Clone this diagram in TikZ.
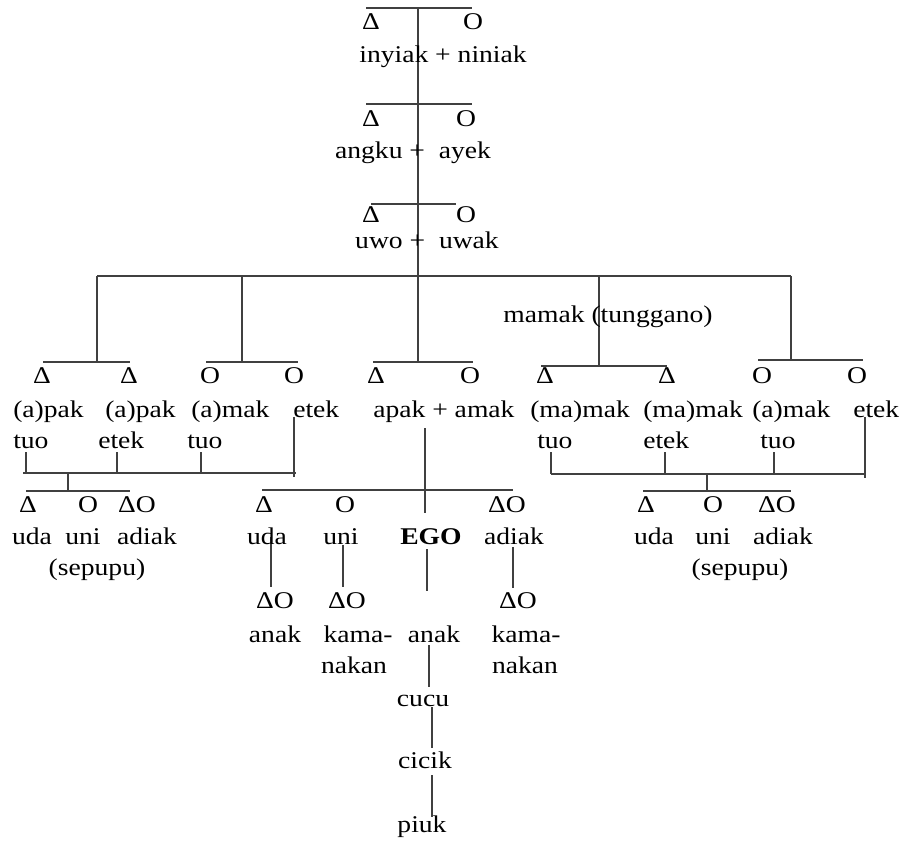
\documentclass[tikz,border=0pt]{standalone}
\usepackage{fontspec}
\setmainfont{Liberation Serif}[FakeStretch=1.15]
\newcommand{\tri}{Δ}

\begin{document}
\begin{tikzpicture}[x=0.75pt,y=-0.75pt,line cap=butt,
	kin/.style={line width=0.9pt,color=black!75},
	lbl/.style={inner sep=0pt,anchor=base,font=\fontsize{18}{22}\selectfont},
	lblw/.style={lbl,anchor=base west}]
	\useasboundingbox (0,0) rectangle (902,841);
	% bars and drops
	\coordinate (b1l) at (366,8); \coordinate (b1r) at (472,8); \coordinate (b1c) at (418,8);
	\coordinate (b2l) at (366,104); \coordinate (b2r) at (472,104); \coordinate (b2c) at (418,104);
	\coordinate (b3l) at (371,204); \coordinate (b3r) at (456,204); \coordinate (b3c) at (418,204);
	\coordinate (mainl) at (97,276); \coordinate (mainr) at (791,276); \coordinate (mainc) at (418,276);
	\coordinate (s1l) at (43,362); \coordinate (s1r) at (130,362); \coordinate (s1c) at (97,362);
	\coordinate (s2l) at (206,362); \coordinate (s2r) at (298,362); \coordinate (s2c) at (242,362);
	\coordinate (s3l) at (373,362); \coordinate (s3r) at (473,362); \coordinate (s3c) at (418,362);
	\coordinate (s4l) at (541,366); \coordinate (s4r) at (667,366); \coordinate (s4c) at (599,366);
	\coordinate (s5l) at (758,360); \coordinate (s5r) at (863,360); \coordinate (s5c) at (791,360);
	\draw [kin] (b1l) -- (b1r);
	\draw [kin] (b1c) -- (b2c);
	\draw [kin] (b2l) -- (b2r);
	\draw [kin] (b2c) -- (b3c);
	\draw [kin] (b3l) -- (b3r);
	\draw [kin] (b3c) -- (mainc);
	\draw [kin] (mainl) -- (mainr);
	\draw [kin] (mainl) -- (s1c);
	\draw [kin] (s2c |- mainc) -- (s2c);
	\draw [kin] (mainc) -- (s3c);
	\draw [kin] (s4c |- mainc) -- (s4c);
	\draw [kin] (mainr) -- (s5c);
	\draw [kin] (s1l) -- (s1r);
	\draw [kin] (s2l) -- (s2r);
	\draw [kin] (s3l) -- (s3r);
	\draw [kin] (s4l) -- (s4r);
	\draw [kin] (s5l) -- (s5r);
	% left cousins
	\coordinate (lc1) at (26,452); \coordinate (lc2) at (117,452); \coordinate (lc3) at (201,452);
	\coordinate (lc4) at (294,417); \coordinate (lc4e) at (294,477);
	\coordinate (lcl) at (23,473); \coordinate (lcr) at (296,473); \coordinate (lcd) at (68,473);
	\coordinate (cb1l) at (26,491); \coordinate (cb1r) at (130,491);
	\draw [kin] (lc1) -- (lc1 |- lcl);
	\draw [kin] (lc2) -- (lc2 |- lcl);
	\draw [kin] (lc3) -- (lc3 |- lcl);
	\draw [kin] (lc4) -- (lc4e);
	\draw [kin] (lcl) -- (lcr);
	\draw [kin] (lcd) -- (lcd |- cb1l);
	\draw [kin] (cb1l) -- (cb1r);
	% right cousins
	\coordinate (rc1) at (551,452); \coordinate (rc2) at (665,452); \coordinate (rc3) at (774,452);
	\coordinate (rc4) at (865,417); \coordinate (rc4e) at (865,478);
	\coordinate (rcl) at (551,474); \coordinate (rcr) at (865,474); \coordinate (rcd) at (707,474);
	\coordinate (cb2l) at (643,491); \coordinate (cb2r) at (791,491);
	\draw [kin] (rc1) -- (rc1 |- rcl);
	\draw [kin] (rc2) -- (rc2 |- rcl);
	\draw [kin] (rc3) -- (rc3 |- rcl);
	\draw [kin] (rc4) -- (rc4e);
	\draw [kin] (rcl) -- (rcr);
	\draw [kin] (rcd) -- (rcd |- cb2l);
	\draw [kin] (cb2l) -- (cb2r);
	% siblings of ego
	\coordinate (apakd) at (425,428); \coordinate (egot) at (425,513);
	\coordinate (sbl) at (262,490); \coordinate (sbr) at (513,490);
	\draw [kin] (apakd) -- (egot);
	\draw [kin] (sbl) -- (sbr);
	\coordinate (ud1) at (271,537); \coordinate (ud2) at (271,587);
	\coordinate (un1) at (343,545); \coordinate (un2) at (343,587);
	\coordinate (eg1) at (427,549); \coordinate (eg2) at (427,591);
	\coordinate (ad1) at (513,547); \coordinate (ad2) at (513,588);
	\draw [kin] (ud1) -- (ud2);
	\draw [kin] (un1) -- (un2);
	\draw [kin] (eg1) -- (eg2);
	\draw [kin] (ad1) -- (ad2);
	\coordinate (an1) at (429,645); \coordinate (an2) at (429,687);
	\coordinate (cu1) at (432,707); \coordinate (cu2) at (432,748);
	\coordinate (ci1) at (432,775); \coordinate (ci2) at (432,817);
	\draw [kin] (an1) -- (an2);
	\draw [kin] (cu1) -- (cu2);
	\draw [kin] (ci1) -- (ci2);
	% labels
	\node [lbl] (g1m) at (371,30) {\tri};
	\node [lbl] (g1f) at (473,30) {O};
	\node [lbl] (g1) at (443,63) {inyiak + niniak};
	\node [lbl] (g2m) at (371,127) {\tri};
	\node [lbl] (g2f) at (466,127) {O};
	\node [lbl] (g2) at (413,159) {angku +\ \ ayek};
	\node [lbl] (g3m) at (371,223) {\tri};
	\node [lbl] (g3f) at (466,223) {O};
	\node [lbl] (g3) at (427,249) {uwo +\ \ uwak};
	\node [lbl] (mamak) at (608,322) {mamak (tunggano)};
	\node [lbl] (p1s) at (42,383) {\tri};
	\node [lbl] (p2s) at (129,383) {\tri};
	\node [lbl] (p3s) at (210,383) {O};
	\node [lbl] (p4s) at (294,383) {O};
	\node [lbl] (pas) at (376,383) {\tri};
	\node [lbl] (mas) at (470,383) {O};
	\node [lbl] (m1s) at (545,383) {\tri};
	\node [lbl] (m2s) at (667,383) {\tri};
	\node [lbl] (m3s) at (762,383) {O};
	\node [lbl] (m4s) at (857,383) {O};
	\node [lblw] (p1) at (13,417) {(a)pak};
	\node [lblw] (p2) at (105,417) {(a)pak};
	\node [lblw] (p3) at (191,417) {(a)mak};
	\node [lblw] (p4) at (293,417) {etek};
	\node [lblw] (pama) at (373,417) {apak + amak};
	\node [lblw] (m1) at (530,417) {(ma)mak};
	\node [lblw] (m2) at (643,417) {(ma)mak};
	\node [lblw] (m3) at (752,417) {(a)mak};
	\node [lblw] (m4) at (853,417) {etek};
	\node [lblw] (p1b) at (13,448) {tuo};
	\node [lblw] (p2b) at (98,448) {etek};
	\node [lblw] (p3b) at (187,448) {tuo};
	\node [lblw] (m1b) at (537,448) {tuo};
	\node [lblw] (m2b) at (643,448) {etek};
	\node [lblw] (m3b) at (760,448) {tuo};
	% cousins
	\node [lbl] (lk1s) at (28,512) {\tri};
	\node [lbl] (lk2s) at (88,512) {O};
	\node [lbl] (lk3s) at (137,512) {\tri O};
	\node [lbl] (lk1) at (32,544) {uda};
	\node [lbl] (lk2) at (83,544) {uni};
	\node [lbl] (lk3) at (147,544) {adiak};
	\node [lbl] (lsep) at (97,575) {(sepupu)};
	\node [lbl] (rk1s) at (646,512) {\tri};
	\node [lbl] (rk2s) at (713,512) {O};
	\node [lbl] (rk3s) at (777,512) {\tri O};
	\node [lbl] (rk1) at (654,544) {uda};
	\node [lbl] (rk2) at (713,544) {uni};
	\node [lbl] (rk3) at (783,544) {adiak};
	\node [lbl] (rsep) at (740,575) {(sepupu)};
	% ego and siblings
	\node [lbl] (sb1s) at (264,512) {\tri};
	\node [lbl] (sb2s) at (345,512) {O};
	\node [lbl] (sb4s) at (507,512) {\tri O};
	\node [lbl] (sb1) at (267,544) {uda};
	\node [lbl] (sb2) at (341,544) {uni};
	\node [lbl] (ego) at (431,544) {\bfseries EGO};
	\node [lbl] (sb4) at (514,544) {adiak};
	\node [lbl] (k1s) at (275,608) {\tri O};
	\node [lbl] (k2s) at (347,608) {\tri O};
	\node [lbl] (k4s) at (518,608) {\tri O};
	\node [lbl] (k1) at (275,642) {anak};
	\node [lbl] (k2) at (358,642) {kama-};
	\node [lbl] (k2b) at (354,673) {nakan};
	\node [lbl] (k3) at (434,642) {anak};
	\node [lbl] (k4) at (526,642) {kama-};
	\node [lbl] (k4b) at (525,673) {nakan};
	\node [lbl] (cucu) at (423,706) {cucu};
	\node [lbl] (cicik) at (425,768) {cicik};
	\node [lbl] (piuk) at (422,832) {piuk};
\end{tikzpicture}
\end{document}
